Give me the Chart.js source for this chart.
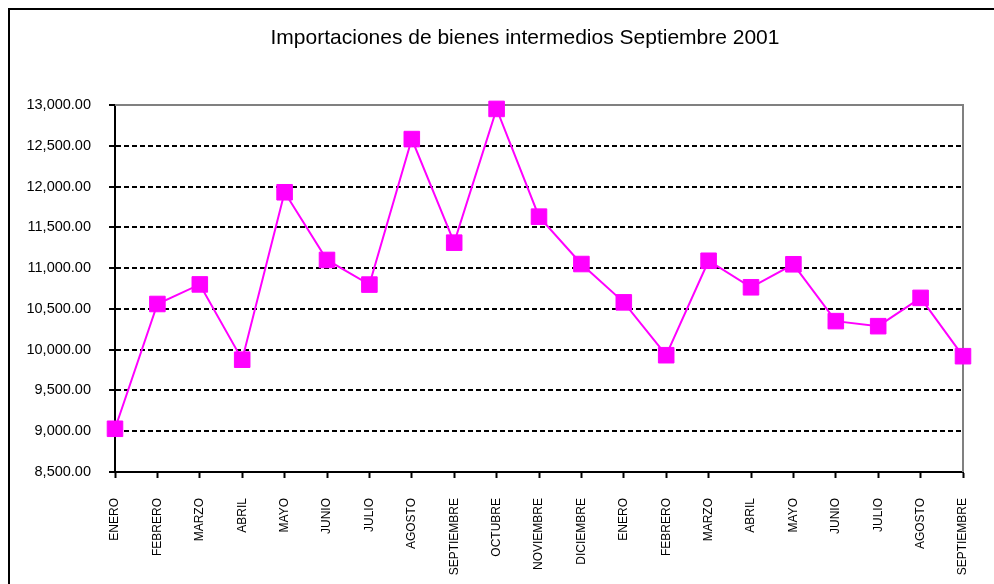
<!DOCTYPE html>
<html>
<head>
<meta charset="utf-8">
<script src="https://cdn.jsdelivr.net/npm/chart.js@4"></script>
<style>
  html, body { margin: 0; padding: 0; background: #fff; }
  #wrap { width: 994px; height: 584px; }
</style>
</head>
<body>
<div id="wrap"><canvas id="chart" width="994" height="584"></canvas></div>
<script>
// --- DATA ---
const months = ['ENERO', 'FEBRERO', 'MARZO', 'ABRIL', 'MAYO', 'JUNIO', 'JULIO', 'AGOSTO',
    'SEPTIEMBRE', 'OCTUBRE', 'NOVIEMBRE', 'DICIEMBRE', 'ENERO', 'FEBRERO', 'MARZO', 'ABRIL',
    'MAYO', 'JUNIO', 'JULIO', 'AGOSTO', 'SEPTIEMBRE'];
const imports = [9030, 10560, 10800, 9877, 11930, 11100, 10798, 12582, 11312, 12952,
    11631, 11050, 10580, 9932, 11090, 10765, 11047, 10350, 10288, 10635, 9920];
const titleText = 'Importaciones de bienes intermedios Septiembre 2001';
const yMin = 8500;
const yMax = 13000;
const yStep = 500;

const FONT = '"Liberation Sans", Arial, sans-serif';

// frame, title and grey plot border (top + right)
const decor = {
    id: 'decor',
    beforeDraw(chart) {
        const ctx = chart.ctx;
        ctx.save();
        ctx.strokeStyle = '#000';
        ctx.lineWidth = 2;
        ctx.strokeRect(9, 9, 1100, 700);
        ctx.fillStyle = '#000';
        ctx.font = '21px ' + FONT;
        ctx.textAlign = 'center';
        ctx.textBaseline = 'middle';
        ctx.fillText(titleText, 525, 38);
        ctx.restore();
    },
    beforeDatasetsDraw(chart) {
        const { ctx, chartArea: a } = chart;
        ctx.save();
        ctx.strokeStyle = '#808080';
        ctx.lineWidth = 2;
        ctx.beginPath();
        ctx.moveTo(a.left, a.top);
        ctx.lineTo(a.right, a.top);
        ctx.lineTo(a.right, a.bottom);
        ctx.stroke();
        ctx.restore();
    }
};

new Chart(document.getElementById('chart'), {
    type: 'line',
    data: {
        labels: months,
        datasets: [{
            data: imports,
            borderColor: '#ff00ff',
            backgroundColor: '#ff00ff',
            borderWidth: 2,
            pointStyle: 'rect',
            pointRadius: 11,
            pointBorderWidth: 1,
            pointBackgroundColor: '#ff00ff',
            pointBorderColor: '#ff00ff',
            tension: 0,
            clip: false
        }]
    },
    options: {
        responsive: false,
        animation: false,
        layout: { padding: { top: 105, right: 31, bottom: 0, left: 0 } },
        plugins: {
            legend: { display: false },
            tooltip: { enabled: false },
            title: { display: false }
        },
        scales: {
            x: {
                offset: false,
                border: { color: '#000', width: 2 },
                grid: { color: 'transparent', drawTicks: true, tickLength: 6, tickColor: '#000', tickWidth: 2 },
                ticks: {
                    color: '#000',
                    font: { family: FONT, size: 12 },
                    minRotation: 90,
                    maxRotation: 90,
                    autoSkip: false,
                    padding: 20
                },
                afterFit(scale) {
                    scale.height = 112;
                    scale.paddingLeft = 0;
                    scale.paddingRight = 0;
                }
            },
            y: {
                min: yMin,
                max: yMax,
                border: { color: '#000', width: 2, dash: [5, 3] },
                grid: {
                    color: ctx => (ctx.tick && (ctx.tick.value === yMax || ctx.tick.value === yMin)) ? 'transparent' : '#000',
                    lineWidth: 2,
                    drawTicks: true,
                    tickLength: 6,
                    tickColor: '#000',
                    tickWidth: 2,
                    tickBorderDash: []
                },
                ticks: {
                    stepSize: yStep,
                    color: '#000',
                    font: { family: FONT, size: 14.5 },
                    padding: 18,
                    callback: v => v.toLocaleString('en-US', { minimumFractionDigits: 2, maximumFractionDigits: 2 })
                },
                afterFit(scale) {
                    scale.width = 115;
                    scale.paddingTop = 0;
                    scale.paddingBottom = 0;
                }
            }
        }
    },
    plugins: [decor]
});
</script>
</body>
</html>
